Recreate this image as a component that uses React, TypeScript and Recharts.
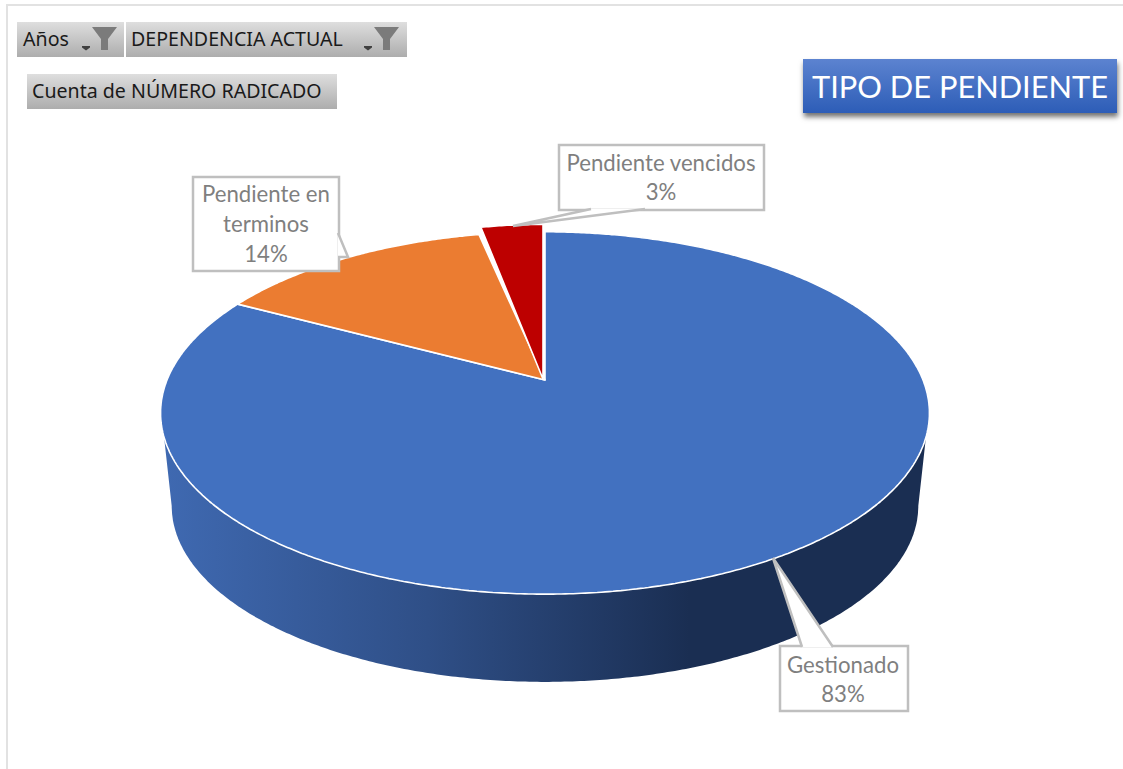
import React from "react";
import { PieChart, Pie, Cell } from "recharts";

const categories = ["Gestionado", "Pendiente en terminos", "Pendiente vencidos"];
const counts = [828, 139, 33];
const COLORS = ["#4271c0", "#eb7c31", "#bd0000"];
const labelLines = [["Gestionado"], ["Pendiente en", "terminos"], ["Pendiente vencidos"]];

const data = categories.map((name, i) => ({ name, value: counts[i] }));

// perspective of the tilted disc
const TILT = 0.182;
const SQUASH = 0.4634;
const WALL_SCALE = 0.971;
const TOP_MID_Y = 413;
const WALL_MID_Y = 506;
const WALL_START_Y = 437;

// callout box [x, y, w, h], pointer polygon, first text baseline, line gap
const callouts = [
  { box: [780, 646, 128, 65], tip: [[802, 647], [773, 558], [833, 647]], textX: 843, textY: 673, gap: 29 },
  { box: [193, 177, 146, 94], tip: [[338, 233], [348, 257], [338, 257]], textX: 266, textY: 202, gap: 30 },
  { box: [559, 145, 205, 65], tip: [[591, 209], [513, 226], [645, 209]], textX: 661, textY: 171, gap: 29 },
];

const project = (cx: number, cy: number, r: number, deg: number) => {
  const a = (deg * Math.PI) / 180;
  const d = 1 + TILT * Math.sin(a);
  return { x: cx + (r * Math.cos(a)) / d, y: cy - (r * SQUASH * Math.sin(a)) / d };
};

const pts = (list: { x: number; y: number }[]) =>
  list.map((p) => `${p.x.toFixed(1)},${p.y.toFixed(1)}`).join(" L");

function DiscSlice(props: any) {
  const { cx, cy, outerRadius, startAngle, endAngle, fill, index } = props;
  const rim: { x: number; y: number }[] = [];
  for (let a = startAngle; a >= endAngle; a -= 0.5) rim.push(project(cx, cy, outerRadius, a));
  rim.push(project(cx, cy, outerRadius, endAngle));

  const wallTop = rim.filter((p) => p.y >= WALL_START_Y);
  const wallBottom = rim
    .filter((p) => p.y >= TOP_MID_Y)
    .map((p) => ({ x: cx + (p.x - cx) * WALL_SCALE, y: WALL_MID_Y + (p.y - TOP_MID_Y) * WALL_SCALE }))
    .reverse();

  // the last slice sits a little raised off the disc
  const lifted = index === 2;
  const top = lifted
    ? rim.map((p) => ({ x: cx + (p.x - cx) * 0.94 - 2, y: cy + (p.y - cy) * 1.05 }))
    : rim;
  const apex = lifted ? { x: cx - 2, y: cy - 1 } : { x: cx, y: cy };

  return (
    <g>
      {wallTop.length > 0 && <path d={`M${pts(wallTop)} L${pts(wallBottom)} Z`} fill="url(#wallShade)" />}
      <path d={`M${apex.x},${apex.y} L${pts(top)} Z`} fill={fill} stroke="#ffffff" strokeWidth={1.6} strokeLinejoin="round" />
    </g>
  );
}

function Callout(props: any) {
  const { index, percent } = props;
  const c = callouts[index];
  const [x, y, w, h] = c.box;
  const lines = [...labelLines[index], `${Math.round(percent * 100)}%`];
  return (
    <g>
      <rect x={x} y={y} width={w} height={h} fill="#ffffff" stroke="#bfbfbf" strokeWidth={2.5} />
      <polygon points={c.tip.map((p) => p.join(",")).join(" ")} fill="#ffffff" stroke="none" />
      <polyline points={c.tip.map((p) => p.join(",")).join(" ")} fill="none" stroke="#bfbfbf" strokeWidth={2.5} />
      <text x={c.textX} y={c.textY} textAnchor="middle" fontFamily="Lato" fontSize={22.2} fill="#7f7f7f">
        {lines.map((t, i) => (
          <tspan key={i} x={c.textX} dy={i === 0 ? 0 : c.gap}>
            {t}
          </tspan>
        ))}
      </text>
    </g>
  );
}

function Funnel({ x }: { x: number }) {
  return (
    <svg style={{ position: "absolute", left: x, top: 4 }} width={36} height={26}>
      <path d="M0 20 h8 v1.5 l-4 3 l-4 -3 z" fill="#404040" />
      <path d="M10 1 H35 L26 13 V24 H19 V13 Z" fill="#7b7b7b" />
    </svg>
  );
}

const btn: React.CSSProperties = {
  position: "absolute",
  height: 35,
  background: "linear-gradient(#dedede, #adadad)",
  fontFamily: "'Noto Sans'",
  fontSize: 19.6,
  lineHeight: "34px",
  color: "#1a1a1a",
  whiteSpace: "nowrap",
};

export default function App() {
  return (
    <div style={{ position: "absolute", left: 0, top: 0, width: 1123, height: 769, background: "#fff", overflow: "hidden" }}>
      <div style={{ position: "absolute", left: 6, top: 4, width: 1117, height: 765, borderTop: "2px solid #e2e2e2", borderLeft: "2px solid #e2e2e2" }} />
      <div style={{ ...btn, left: 17, top: 22, width: 107, paddingLeft: 6, boxSizing: "border-box" }}>
        Años
        <Funnel x={65} />
      </div>
      <div style={{ ...btn, left: 126, top: 22, width: 281, paddingLeft: 5, boxSizing: "border-box" }}>
        DEPENDENCIA ACTUAL
        <Funnel x={238} />
      </div>
      <div style={{ ...btn, left: 27, top: 74, width: 310, paddingLeft: 5, boxSizing: "border-box" }}>
        Cuenta de NÚMERO RADICADO
      </div>
      <div
        style={{
          position: "absolute",
          left: 803,
          top: 59,
          width: 314,
          height: 54,
          background: "linear-gradient(#5c83d0, #2d5db7)",
          boxShadow: "1px 4px 5px rgba(0,0,0,0.55)",
          color: "#fff",
          fontFamily: "Lato",
          fontSize: 30.8,
          lineHeight: "56px",
          textAlign: "center",
          whiteSpace: "nowrap",
        }}
      >
        TIPO DE PENDIENTE
      </div>
      <div style={{ position: "absolute", left: 0, top: 0 }}>
        <PieChart width={1123} height={769} margin={{ top: 0, right: 0, bottom: 0, left: 0 }}>
          <defs>
            <linearGradient id="wallShade" gradientUnits="userSpaceOnUse" x1={165} y1={0} x2={690} y2={0}>
              <stop offset="0%" stopColor="#3f69b1" />
              <stop offset="50%" stopColor="#2f4f87" />
              <stop offset="100%" stopColor="#1a2e52" />
            </linearGradient>
          </defs>
          <Pie
            data={data}
            dataKey="value"
            nameKey="name"
            cx={545}
            cy={380}
            innerRadius={0}
            outerRadius={378}
            startAngle={90}
            endAngle={-270}
            paddingAngle={0}
            stroke="none"
            shape={DiscSlice}
            label={Callout}
            labelLine={false}
            isAnimationActive={false}
          >
            {data.map((_, index) => (
              <Cell key={`cell-${index}`} fill={COLORS[index]} />
            ))}
          </Pie>
        </PieChart>
      </div>
    </div>
  );
}
